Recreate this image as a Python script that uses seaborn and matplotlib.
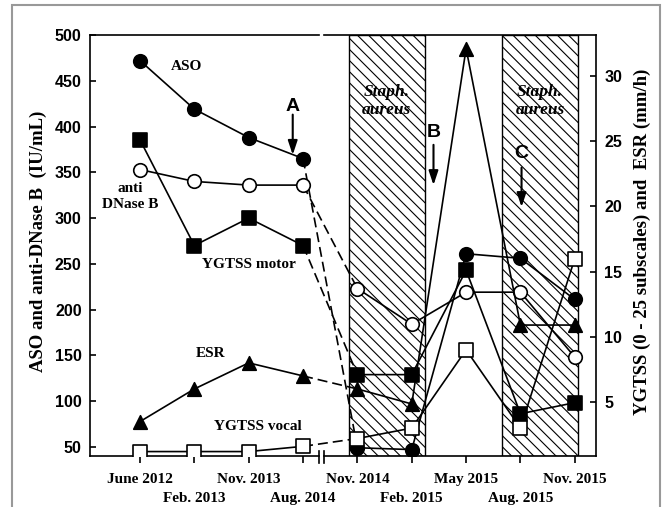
import numpy as np
import pandas as pd
import matplotlib
matplotlib.use("Agg")
import matplotlib.pyplot as plt
from matplotlib.patches import Rectangle
import seaborn as sns

# fechas de las visitas (el eje x tiene un corte entre Aug. 2014 y Nov. 2014)
fechas = ["June 2012", "Feb. 2013", "Nov. 2013", "Aug. 2014", "Nov. 2014",
          "Feb. 2015", "May 2015", "Aug. 2015", "Nov. 2015"]

# eje izquierdo: IU/mL
aso = [472, 419, 388, 365, 49, 47, 261, 256, 211]
anti_dnase = [353, 340, 336, 336, 223, 184, 219, 219, 148]

# eje derecho: YGTSS (0 - 25) y ESR (mm/h)
motor = [25.1, 17.0, 19.1, 17.0, 7.1, 7.1, 15.1, 4.1, 4.95]
vocal = [1.2, 1.2, 1.2, 1.6, 2.2, 3.0, 9.0, 3.0, 16.0]
esr = [3.5, 6.0, 8.0, 7.0, 6.0, 4.85, 32.1, 10.9, 10.9]

# periodos con Staph. aureus (posiciones en el eje x)
staph = [(3.84, 5.24), (6.66, 8.06)]

x = np.arange(len(fechas))

plt.rcParams["hatch.linewidth"] = 0.8
SERIF = "Liberation Serif"
SANS = "Liberation Sans"

fig = plt.figure(figsize=(6.64, 5.07), dpi=100)
ax = fig.add_subplot(111)
fig.subplots_adjust(left=90 / 664, right=596 / 664, bottom=1 - 456 / 507, top=1 - 35 / 507)
ax2 = ax.twinx()


def serie(axis, valores, marker, relleno):
    # linea continua, tramo discontinuo en el corte, y marcadores encima
    df = pd.DataFrame({"x": x, "y": valores})
    tramos = [(df.iloc[:4], "-"), (df.iloc[3:5], (0, (6, 3))), (df.iloc[4:], "-")]
    for tramo, estilo in tramos:
        sns.lineplot(data=tramo, x="x", y="y", ax=axis, color="black", lw=1.2,
                     linestyle=estilo, errorbar=None, zorder=3)
    sns.scatterplot(data=df, x="x", y="y", ax=axis, marker=marker, s=95,
                    color=relleno, edgecolor="black", linewidth=1.2, zorder=4)


# zonas rayadas
for a, b in staph:
    ax.axvspan(a, b, facecolor="white", edgecolor="black", hatch="\\\\\\", lw=1, zorder=1)
    ax.text((a + b) / 2, 428, "Staph.\naureus", ha="center", va="center", fontsize=12.5,
            fontweight="bold", style="italic", family=SERIF, linespacing=1.2, zorder=2)

serie(ax, anti_dnase, "o", "white")
serie(ax, aso, "o", "black")
serie(ax2, esr, "^", "black")
serie(ax2, motor, "s", "black")
serie(ax2, vocal, "s", "white")

# ejes
ax.set_xlim(-0.92, 8.39)
ax.set_ylim(40, 500)
ax2.set_ylim(0.86, 33.14)

# etiquetas del eje x en dos filas: pares arriba (major), impares abajo (minor)
ax.set_xticks(x[::2])
ax.set_xticklabels(fechas[::2], fontsize=11, fontweight="bold", family=SERIF)
ax.set_xticks(x[1::2], minor=True)
ax.set_xticklabels(fechas[1::2], minor=True, fontsize=11, fontweight="bold", family=SERIF)
ax.tick_params(axis="x", which="major", direction="out", length=5, width=1.2, pad=7)
ax.tick_params(axis="x", which="minor", direction="out", length=5, width=1.2, pad=21)

ax.set_yticks(np.arange(50, 501, 50))
ax.set_yticklabels([str(v) for v in range(50, 501, 50)], fontsize=11.5,
                   fontweight="bold", family=SANS)
ax.tick_params(axis="y", direction="in", length=4, width=1.2, pad=6)
ax2.set_yticks([5, 10, 15, 20, 25, 30])
ax2.set_yticklabels(["5", "10", "15", "20", "25", "30"], fontsize=11.5,
                    fontweight="bold", family=SANS)
ax2.tick_params(axis="y", direction="in", length=4, width=1.2, pad=6)
ax.set_xlabel("")
ax.set_ylabel("")
ax2.set_xlabel("")
ax2.set_ylabel("")

for s in ["top", "bottom", "right"]:
    ax.spines[s].set_visible(False)
for s in ["top", "bottom", "left"]:
    ax2.spines[s].set_visible(False)
ax.spines["left"].set_linewidth(1.2)
ax2.spines["right"].set_linewidth(1.2)

# lineas superior e inferior con el corte
xa, xb = (319 - 90) / 506, (324 - 90) / 506
for yy in [0, 1]:
    ax.plot([0, xa], [yy, yy], transform=ax.transAxes, color="black", lw=1.2, clip_on=False)
    ax.plot([xb, 1], [yy, yy], transform=ax.transAxes, color="black", lw=1.2, clip_on=False)
for xx in [xa, xb]:
    ax.plot([xx, xx], [-0.017, 0.011], transform=ax.transAxes, color="black", lw=1.2, clip_on=False)

# etiquetas de las series
etiqueta = dict(fontsize=11, fontweight="bold", family=SERIF, ha="center", va="center")
ax.text(0.85, 466, "ASO", **etiqueta)
ax.text(-0.18, 323, "anti\nDNase B", linespacing=1.3, **etiqueta)
ax.text(2.0, 249, "YGTSS motor", **etiqueta)
ax.text(1.29, 152, "ESR", **etiqueta)
ax.text(2.17, 72, "YGTSS vocal", **etiqueta)

# flechas A, B, C
flechas = [("A", 2.81, 422, 413, 369), ("B", 5.40, 393, 380, 336), ("C", 7.02, 371, 355, 312)]
for letra, xf, yt, y0, y1 in flechas:
    ax.text(xf, yt, letra, fontsize=14, fontweight="bold", family=SANS, ha="center", va="center")
    ax.annotate("", xy=(xf, y1), xytext=(xf, y0),
                arrowprops=dict(arrowstyle="-|>,head_length=0.6,head_width=0.2",
                                color="black", lw=1.5, mutation_scale=14, shrinkA=0, shrinkB=0))

# titulos de los ejes
fig.text(38 / 664, 1 - 241 / 507, "ASO and anti-DNase B  (IU/mL)", rotation=90,
         ha="center", va="center", fontsize=13.5, fontweight="bold", family=SERIF)
fig.text(642 / 664, 1 - 242 / 507, "YGTSS (0 - 25 subscales) and  ESR (mm/h)", rotation=90,
         ha="center", va="center", fontsize=13.5, fontweight="bold", family=SERIF)

# marco gris
fig.add_artist(Rectangle((12 / 664, -0.05), (660 - 12) / 664, 1.05 - 5 / 507,
                         transform=fig.transFigure, fill=False, edgecolor="#999999", lw=1.5))

fig.savefig("out.png", dpi=100)
